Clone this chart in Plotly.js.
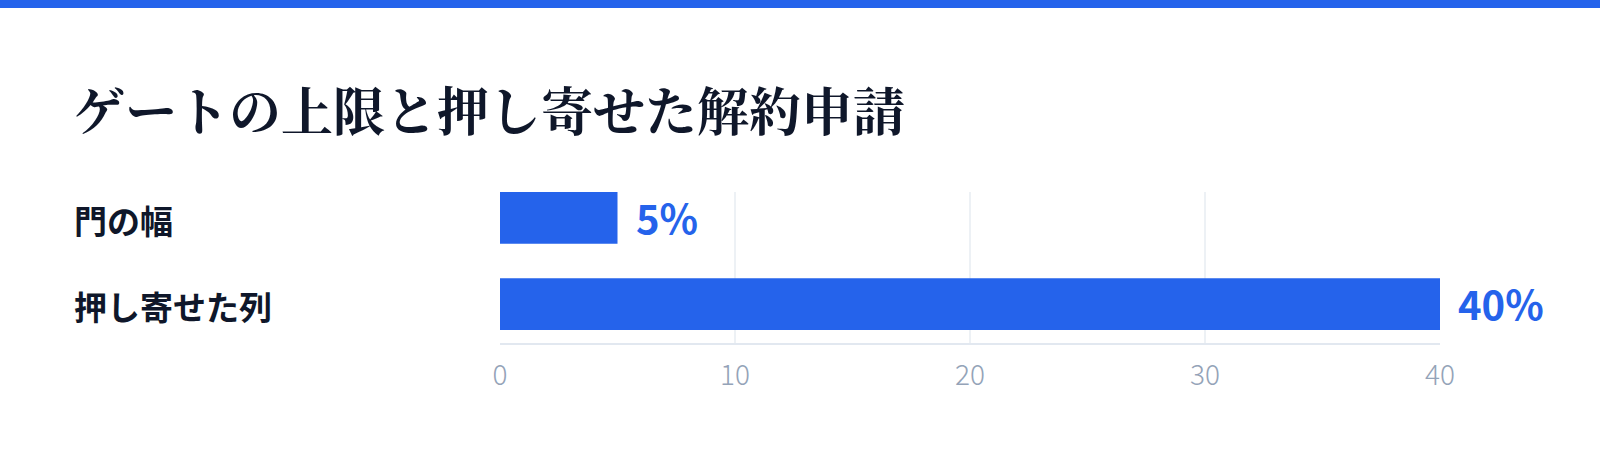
<!DOCTYPE html>
<html>
<head>
<meta charset="utf-8">
<script src="https://cdn.plot.ly/plotly-3.0.1.min.js"></script>
<style>
  html, body { margin: 0; padding: 0; background: #ffffff; }
  #plot { width: 1600px; height: 462px; }
</style>
</head>
<body>
<div id="plot"></div>
<script>
// data
var categories = ['門の幅', '押し寄せた列'];
var values = [5, 40];
var valueLabels = ['5%', '40%'];
var tickVals = [0, 10, 20, 30, 40];

var blue = '#2563eb';
var ink = '#0f172a';

// plot area in pixels (figure is 1600 x 462)
var W = 1600, H = 462;
var mL = 500, mR = 160, mT = 192, mB = 119;
var plotH = H - mT - mB;

var trace = {
  type: 'bar',
  orientation: 'h',
  x: values,
  y: categories,
  width: 0.6,
  marker: { color: blue },
  hoverinfo: 'none',
  cliponaxis: false
};

// value labels next to bar ends
var annotations = [];
for (let i = 0; i < values.length; i++) {
  annotations.push({
    x: values[i], y: categories[i], xref: 'x', yref: 'y',
    text: valueLabels[i], showarrow: false,
    xanchor: 'left', yanchor: 'middle', xshift: 16, yshift: 1,
    font: { family: '"Noto Sans CJK JP", sans-serif', size: 40, color: blue, weight: 700 }
  });
}
// category labels, left aligned at the page margin
for (let i = 0; i < categories.length; i++) {
  annotations.push({
    x: (72 - mL) / (W - mL - mR), y: categories[i], xref: 'paper', yref: 'y',
    text: categories[i], showarrow: false,
    xanchor: 'left', yanchor: 'middle', yshift: -2,
    font: { family: '"Noto Sans CJK JP", sans-serif', size: 33, color: ink, weight: 700 }
  });
}

// top stripe, in paper coordinates of the plot area
var shapes = [{
  type: 'rect', xref: 'paper', yref: 'paper', layer: 'above',
  x0: -mL / (W - mL - mR), x1: 1 + mR / (W - mL - mR),
  y0: 1 + (mT - 8) / plotH, y1: 1 + mT / plotH,
  fillcolor: blue, line: { width: 0 }
}];

var layout = {
  width: W,
  height: H,
  margin: { l: mL, r: mR, t: mT, b: mB },
  paper_bgcolor: '#ffffff',
  plot_bgcolor: '#ffffff',
  showlegend: false,
  title: {
    text: 'ゲートの上限と押し寄せた解約申請',
    x: 73 / W, xanchor: 'left', xref: 'container',
    y: 1 - 113 / H, yanchor: 'middle', yref: 'container',
    font: { family: '"Noto Serif CJK JP", "Noto Sans CJK JP", serif', size: 52, color: ink, weight: 700 }
  },
  xaxis: {
    range: [0, 40],
    tickvals: tickVals,
    showgrid: true,
    gridcolor: '#edf1f5',
    gridwidth: 2,
    zeroline: false,
    showline: true,
    linecolor: '#e2e8f0',
    linewidth: 2,
    ticks: 'outside',
    ticklen: 6,
    tickcolor: 'rgba(0,0,0,0)',
    tickfont: { family: '"Noto Sans CJK JP", sans-serif', size: 28, color: '#94a3b8', weight: 300 },
    fixedrange: true
  },
  yaxis: {
    type: 'category',
    range: [1.45, -0.3],
    showticklabels: false,
    showgrid: false,
    zeroline: false,
    showline: false,
    fixedrange: true
  },
  annotations: annotations,
  shapes: shapes
};

Plotly.newPlot('plot', [trace], layout, { displayModeBar: false, staticPlot: true });
</script>
</body>
</html>
